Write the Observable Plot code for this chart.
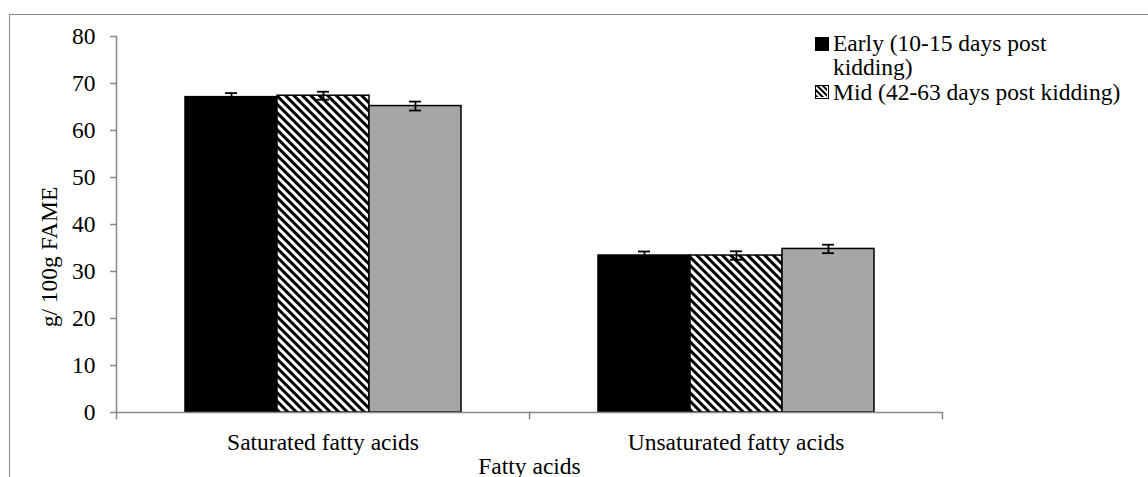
<!DOCTYPE html>
<html>
<head>
<meta charset="utf-8">
<script src="https://cdn.jsdelivr.net/npm/d3@7"></script>
<script src="https://cdn.jsdelivr.net/npm/@observablehq/plot@0.6"></script>
<style>
  html, body { margin: 0; padding: 0; overflow: hidden; background: #fff; }
  #wrap { position: relative; width: 1148px; height: 477px; overflow: hidden; font-family: "Liberation Serif", "Times New Roman", serif; }
  #border { position: absolute; left: 9px; top: 14px; right: -10px; bottom: -10px; border-left: 1.5px solid #888; border-top: 1.5px solid #888; pointer-events: none; }
  #legend { position: absolute; left: 815px; top: 0; font-size: 23.5px; color: #000; line-height: 1; }
  #ylabel { position: absolute; left: 50px; top: 257px; transform: translate(-50%, -50%) rotate(-90deg); font-size: 23.5px; white-space: nowrap; color: #000; line-height: 1; }
  .li { position: absolute; white-space: nowrap; }
  .sw { position: absolute; width: 14px; height: 14px; box-sizing: border-box; }
  svg { overflow: visible; }
</style>
</head>
<body>
<div id="wrap">
  <div id="chart"></div>
  <div id="border"></div>
  <div id="ylabel"></div>
  <div id="legend"></div>
</div>
<script>
// ---- data ----
const categories = ["Saturated fatty acids", "Unsaturated fatty acids"];
const stages = ["Early (10-15 days post kidding)", "Mid (42-63 days post kidding)", "Late"];
const earlyValues = [67.1, 33.4];
const midValues = [67.4, 33.4];
const lateValues = [65.2, 34.8];
const earlyErrors = [0.85, 0.85];
const midErrors = [0.85, 0.9];
const lateErrors = [0.95, 0.9];
const yTicks = [0, 10, 20, 30, 40, 50, 60, 70, 80];
const yLabel = "g/ 100g FAME";
const xLabel = "Fatty acids";
const legendLines = [["Early (10-15 days post", "kidding)"], ["Mid (42-63 days post kidding)"]];

const seriesValues = [earlyValues, midValues, lateValues];
const seriesErrors = [earlyErrors, midErrors, lateErrors];
const rows = [];
categories.forEach((c, i) => {
  stages.forEach((s, j) => {
    rows.push({category: c, stage: s, value: seriesValues[j][i], err: seriesErrors[j][i]});
  });
});

const grey = "#888";
const fills = ["#000000", "url(#hatch)", "#a6a6a6"];

const chart = Plot.plot({
  width: 1148,
  height: 477,
  marginLeft: 115,
  marginRight: 206,
  marginTop: 36,
  marginBottom: 65,
  style: {fontFamily: "'Liberation Serif', 'Times New Roman', serif", fontSize: "23.5px", color: "#000", background: "transparent"},
  fx: {domain: categories, padding: 0},
  x: {domain: stages, paddingInner: 0, paddingOuter: 0.74, axis: null},
  y: {domain: [0, 80]},
  color: {domain: stages, range: fills},
  marks: [
    Plot.barY(rows, {fx: "category", x: "stage", y: "value", fill: "stage", stroke: "#000", strokeWidth: 1.5}),
    Plot.ruleX(rows, {fx: "category", x: "stage", y1: d => d.value - d.err, y2: d => d.value + d.err, stroke: "#000", strokeWidth: 1.8}),
    Plot.tickY(rows, {fx: "category", x: "stage", y: d => d.value + d.err, stroke: "#000", strokeWidth: 1.8, insetLeft: 40, insetRight: 40}),
    Plot.tickY(rows, {fx: "category", x: "stage", y: d => d.value - d.err, stroke: "#000", strokeWidth: 1.8, insetLeft: 40, insetRight: 40}),
    Plot.ruleY([0], {stroke: grey, strokeWidth: 1.5}),
    Plot.frame({anchor: "left", facetAnchor: "left", stroke: grey, strokeWidth: 1.5, insetBottom: -6}),
    Plot.frame({anchor: "right", stroke: grey, strokeWidth: 1.5, insetTop: 376, insetBottom: -6}),
    Plot.axisY(yTicks, {tickSize: 6, tickPadding: 15, stroke: grey, strokeWidth: 1.5, label: null, fill: "#000"}),
    Plot.axisFx({anchor: "bottom", tickSize: 0, tickPadding: 21, label: null, fill: "#000"}),
    Plot.text([xLabel], {text: d => d, frameAnchor: "bottom", facet: "super", dy: 61, fill: "#000"})
  ]
});

// hatch pattern definition
const ns = "http://www.w3.org/2000/svg";
const defs = document.createElementNS(ns, "defs");
defs.innerHTML = '<pattern id="hatch" width="6" height="6" patternUnits="userSpaceOnUse" patternTransform="rotate(-45)">' +
  '<rect x="0" y="0" width="6" height="6" fill="#fff"/><rect x="0" y="0" width="3" height="6" fill="#000"/></pattern>';
chart.insertBefore(defs, chart.firstChild);
document.getElementById("chart").appendChild(chart);

document.getElementById("ylabel").textContent = yLabel;

// legend (only the entries visible in the frame)
const legend = document.getElementById("legend");
const swatchTops = [37, 85];
const lineTops = [32, 56, 81];
let li = 0;
legendLines.forEach((lines, k) => {
  const sw = document.createElement("div");
  sw.className = "sw";
  sw.style.left = "0px";
  sw.style.top = swatchTops[k] + "px";
  if (k === 0) { sw.style.background = "#000"; }
  else {
    sw.style.border = "1.5px solid #000";
    sw.innerHTML = '<svg width="11" height="11" style="display:block"><defs><pattern id="hatch2" width="4" height="4" patternUnits="userSpaceOnUse" patternTransform="rotate(-45)"><rect width="4" height="4" fill="#fff"/><rect width="2" height="4" fill="#000"/></pattern></defs><rect width="11" height="11" fill="url(#hatch2)"/></svg>';
  }
  legend.appendChild(sw);
  lines.forEach(t => {
    const d = document.createElement("div");
    d.className = "li";
    d.style.left = "18px";
    d.style.top = lineTops[li++] + "px";
    d.textContent = t;
    legend.appendChild(d);
  });
});
</script>
</body>
</html>
